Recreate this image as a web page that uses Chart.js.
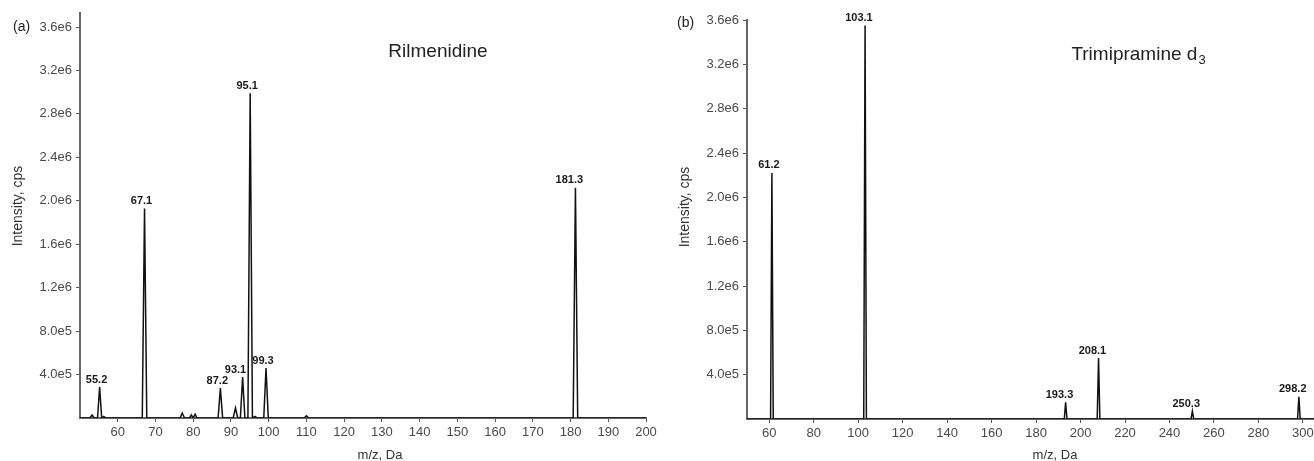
<!DOCTYPE html>
<html>
<head>
<meta charset="utf-8">
<script src="https://cdn.jsdelivr.net/npm/chart.js@4.4.1/dist/chart.umd.min.js"></script>
<style>
  html, body { margin: 0; padding: 0; background: #fff; overflow: hidden; }
  canvas { position: absolute; top: 0; }
  #chartA { left: 0; }
  #chartB { left: 657px; }
</style>
</head>
<body>
<canvas id="chartA" width="670" height="461"></canvas>
<canvas id="chartB" width="680" height="461"></canvas>
<script>
// (a) Rilmenidine product ion spectrum
const rilMz     = [53.2, 55.2, 56.3, 67.1, 77.1, 79.5, 80.5, 87.2, 91.2, 93.1, 95.1, 96.4, 99.3, 110.0, 181.3];
const rilInt    = [2.8e4, 2.85e5, 1.5e4, 1.93e6, 4.6e4, 2.8e4, 3.5e4, 2.76e5, 9.2e4, 3.77e5, 2.99e6, 1.5e4, 4.6e5, 2.0e4, 2.12e6];
const rilLabels = ['', '55.2', '', '67.1', '', '', '', '87.2', '', '93.1', '95.1', '', '99.3', '', '181.3'];
const rilXTicks = [60, 70, 80, 90, 100, 110, 120, 130, 140, 150, 160, 170, 180, 190, 200];

// (b) Trimipramine d3 product ion spectrum
const triMz     = [61.2, 103.1, 193.3, 208.1, 250.3, 298.2];
const triInt    = [2.22e6, 3.55e6, 1.5e5, 5.5e5, 7.0e4, 2.0e5];
const triLabels = ['61.2', '103.1', '193.3', '208.1', '250.3', '298.2'];
const triXTicks = [60, 80, 100, 120, 140, 160, 180, 200, 220, 240, 260, 280, 300];

const yTicks = [4e5, 8e5, 1.2e6, 1.6e6, 2.0e6, 2.4e6, 2.8e6, 3.2e6, 3.6e6];

const FONT = '"Liberation Sans", Arial, sans-serif';

// turn centroid peaks into thin triangular profiles on a zero baseline
function profile(mz, inten, xMin, xMax, half) {
  const pts = [{ x: xMin, y: 0 }];
  mz.forEach((m, i) => {
    const h = Math.min(half, i > 0 ? (m - mz[i - 1]) / 2 : half, i < mz.length - 1 ? (mz[i + 1] - m) / 2 : half);
    pts.push({ x: m - h, y: 0 }, { x: m, y: inten[i] }, { x: m + h, y: 0 });
  });
  pts.push({ x: xMax, y: 0 });
  return pts;
}

const sciLabel = v => Number(v).toExponential(1).replace('+', '');

// peak labels (decimal point over the peak) plus panel captions
const annotate = {
  id: 'annotate',
  afterDraw(chart, args, o) {
    const ctx = chart.ctx;
    const xs = chart.scales.x, ys = chart.scales.y;
    ctx.save();
    ctx.fillStyle = '#1a1a1a';
    ctx.font = 'bold 11px ' + FONT;
    ctx.textAlign = 'left';
    ctx.textBaseline = 'bottom';
    o.labels.forEach((s, i) => {
      if (!s) return;
      const px = xs.getPixelForValue(o.mz[i]);
      const py = ys.getPixelForValue(o.inten[i]);
      const dot = s.indexOf('.');
      const pre = ctx.measureText(s.slice(0, dot)).width;
      const dw = ctx.measureText('.').width;
      const w = ctx.measureText(s).width;
      let x0 = px - pre - dw / 2;
      // keep clear of a taller peak just to the right
      const next = o.mz[i + 1];
      if (next !== undefined && o.inten[i + 1] > o.inten[i]) {
        const nx = xs.getPixelForValue(next) - 4;
        if (x0 + w > nx) x0 = nx - w;
      }
      ctx.fillText(s, x0, py - 2);
    });

    ctx.fillStyle = '#222';
    ctx.font = '14px ' + FONT;
    ctx.textBaseline = 'middle';
    ctx.fillText(o.panel, o.panelX, o.panelY);

    // compound name, optional subscript
    ctx.font = '19px ' + FONT;
    ctx.textBaseline = 'alphabetic';
    const w1 = ctx.measureText(o.name).width;
    ctx.font = '13px ' + FONT;
    const w2 = o.sub ? ctx.measureText(o.sub).width : 0;
    const tx = o.nameX - (w1 + w2) / 2;
    ctx.font = '19px ' + FONT;
    ctx.fillText(o.name, tx, o.nameY);
    if (o.sub) {
      ctx.font = '13px ' + FONT;
      ctx.fillText(o.sub, tx + w1 + 1, o.nameY + 4);
    }

    // axis titles
    ctx.fillStyle = '#333';
    ctx.font = '13px ' + FONT;
    ctx.textAlign = 'center';
    ctx.textBaseline = 'middle';
    ctx.fillText('m/z, Da', o.xTitleX, 455);
    ctx.font = '14px ' + FONT;
    ctx.translate(o.yTitleX, o.yTitleY);
    ctx.rotate(-Math.PI / 2);
    ctx.fillText('Intensity, cps', 0, 0);
    ctx.restore();
  }
};

function spectrum(id, mz, inten, labels, xTicks, xMin, xMax, yMax, half, pad, yWidth, xHeight, text) {
  return new Chart(document.getElementById(id), {
    type: 'line',
    data: {
      datasets: [{
        data: profile(mz, inten, xMin, xMax, half),
        borderColor: '#111',
        borderWidth: 1.5,
        pointRadius: 0,
        tension: 0,
        fill: false
      }]
    },
    options: {
      responsive: false,
      animation: false,
      layout: { padding: pad },
      plugins: {
        legend: { display: false },
        tooltip: { enabled: false },
        annotate: Object.assign({ mz: mz, inten: inten, labels: labels }, text)
      },
      scales: {
        x: {
          type: 'linear',
          min: xMin,
          max: xMax,
          afterBuildTicks: s => { s.ticks = xTicks.map(v => ({ value: v })); },
          afterFit: s => { s.height = xHeight; },
          grid: { drawOnChartArea: false, drawTicks: true, tickLength: 4, color: '#555' },
          border: { display: true, color: '#666', width: 2 },
          ticks: {
            color: '#4a4a4a',
            font: { family: FONT, size: 13 },
            padding: 3,
            maxRotation: 0,
            autoSkip: false,
            callback: v => v
          }
        },
        y: {
          min: 0,
          max: yMax,
          afterBuildTicks: s => { s.ticks = yTicks.map(v => ({ value: v })); },
          afterFit: s => { s.width = yWidth; },
          grid: { drawOnChartArea: false, drawTicks: true, tickLength: 4, color: '#555' },
          border: { display: true, color: '#666', width: 2 },
          ticks: {
            color: '#4a4a4a',
            font: { family: FONT, size: 13 },
            padding: 4,
            autoSkip: false,
            callback: sciLabel
          }
        }
      }
    },
    plugins: [annotate]
  });
}

spectrum('chartA', rilMz, rilInt, rilLabels, rilXTicks, 50, 200, 3.729e6, 0.6,
  { left: 0, right: 24, top: 13, bottom: 0 }, 80, 43,
  { panel: '(a)', panelX: 13, panelY: 27, name: 'Rilmenidine', sub: '', nameX: 438, nameY: 57,
    xTitleX: 380, yTitleX: 18, yTitleY: 206 });

spectrum('chartB', triMz, triInt, triLabels, triXTicks, 50, 305, 3.6e6, 0.6,
  { left: 0, right: 23, top: 20, bottom: 0 }, 90, 42,
  { panel: '(b)', panelX: 20, panelY: 23, name: 'Trimipramine d', sub: '3', nameX: 481, nameY: 60,
    xTitleX: 398, yTitleX: 28, yTitleY: 207 });
</script>
</body>
</html>
